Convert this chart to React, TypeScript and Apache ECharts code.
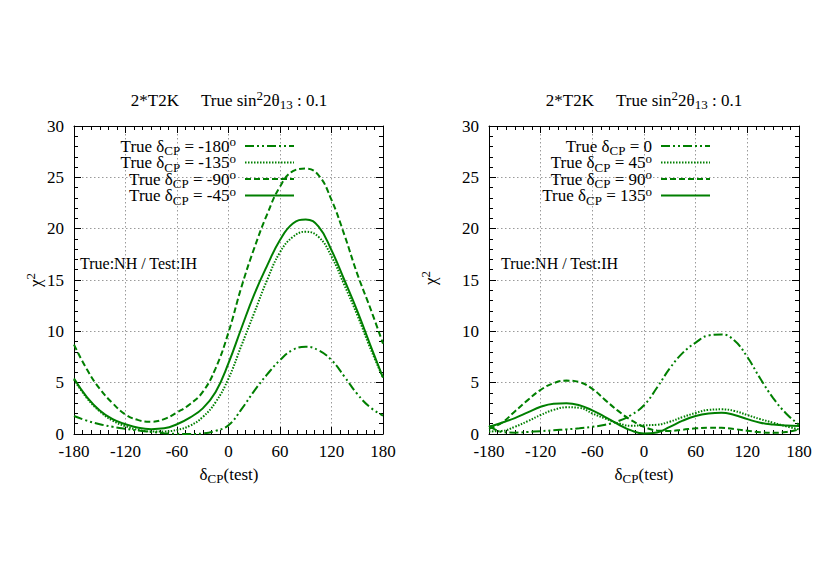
import React, { useEffect, useRef } from 'react';
import * as echarts from 'echarts';

// test delta_CP values (degrees)
const deltaTest = [-180, -165, -150, -135, -120, -105, -90, -75, -60, -45, -30, -15, 0, 15, 30, 45, 60, 75, 90, 105, 120, 135, 150, 165, 180];

// Left panel: true delta_CP = -180, -135, -90, -45
const leftM180 = [1.75, 1.3, 0.95, 0.7, 0.5, 0.33, 0.2, 0.08, 0.02, 0.0, 0.05, 0.3, 0.85, 2.4, 4.2, 5.8, 7.2, 8.2, 8.5, 8.15, 7.2, 5.6, 3.9, 2.6, 1.8];
const leftM135 = [5.3, 3.5, 2.2, 1.3, 0.75, 0.4, 0.25, 0.25, 0.4, 0.8, 1.65, 3.1, 5.4, 8.6, 11.8, 15.0, 17.7, 19.2, 19.7, 19.2, 17.3, 14.5, 11.6, 8.4, 5.5];
const leftM90 = [8.7, 6.3, 4.4, 3.0, 1.9, 1.35, 1.2, 1.45, 2.1, 2.9, 4.1, 6.4, 9.9, 14.3, 18.1, 21.4, 24.1, 25.6, 25.85, 25.2, 22.8, 19.4, 15.6, 12.3, 8.8];
const leftM45 = [5.4, 3.6, 2.3, 1.45, 0.95, 0.6, 0.47, 0.55, 0.95, 1.6, 2.5, 4.1, 6.9, 10.3, 13.6, 16.4, 18.9, 20.5, 20.9, 20.2, 17.9, 15.0, 12.0, 8.7, 5.5];

// Right panel: true delta_CP = 0, 45, 90, 135
const right0 = [0.8, 0.2, 0.13, 0.2, 0.28, 0.36, 0.45, 0.55, 0.7, 0.9, 1.25, 1.85, 2.8, 4.5, 6.4, 7.9, 8.9, 9.6, 9.7, 9.1, 7.5, 5.4, 3.5, 2.0, 0.9];
const right45 = [0.25, 0.3, 0.7, 1.25, 1.85, 2.35, 2.6, 2.55, 2.0, 1.5, 1.05, 0.8, 0.85, 0.9, 1.2, 1.65, 2.05, 2.35, 2.4, 2.25, 1.85, 1.45, 1.1, 0.75, 0.45];
const right90 = [0.5, 1.1, 2.2, 3.3, 4.3, 4.95, 5.2, 5.05, 4.4, 3.3, 2.25, 1.35, 0.7, 0.35, 0.3, 0.42, 0.55, 0.62, 0.6, 0.48, 0.32, 0.18, 0.12, 0.2, 0.45];
const right135 = [0.7, 1.1, 1.55, 2.1, 2.65, 2.95, 3.0, 2.8, 2.3, 1.65, 0.95, 0.35, 0.05, 0.15, 0.7, 1.3, 1.75, 2.0, 2.08, 1.85, 1.45, 1.1, 0.92, 0.82, 0.78];

const xTicks = { min: -180, max: 180, interval: 60 };
const yTicks = { min: 0, max: 30, interval: 5 };

const leftLegend = ['-180', '-135', '-90', '-45'];
const rightLegend = ['0', '45', '90', '135'];

const GREEN = '#007f00';
const FONT = 'Liberation Serif, Times New Roman, serif';

const rich = {
  a: { fontFamily: FONT, fontSize: 17, color: '#000', lineHeight: 16 },
  sub: { fontFamily: FONT, fontSize: 13, color: '#000', lineHeight: 6, padding: [9, 0, 0, 0] },
  sup: { fontFamily: FONT, fontSize: 13, color: '#000', lineHeight: 6, padding: [0, 0, 9, 0] },
  sp: { width: 22, lineHeight: 16 },
};

const styles = {
  dashdot: { type: [9, 3, 2, 3, 2, 3], width: 2 },
  dotted: { type: [1.5, 1.5], width: 2 },
  dashed: { type: [6, 3], width: 2 },
  solid: { type: 'solid', width: 2 },
};

function legendText(name: string) {
  const deg = name === '0' ? '' : '{sup|o}';
  return `{a|True δ}{sub|CP}{a| = ${name}}${deg}`;
}

export default function App() {
  const ref = useRef<HTMLDivElement>(null);
  useEffect(() => {
    document.body.style.margin = '0';
    const chart = echarts.init(ref.current!, null, { renderer: 'svg' });

    const grids = [
      { left: 74, top: 126, width: 309, height: 308 },
      { left: 489, top: 126, width: 310, height: 308 },
    ];

    const xAxes: any[] = [];
    const yAxes: any[] = [];
    grids.forEach((_, gi) => {
      const axisLine = { show: true, onZero: false, lineStyle: { color: '#000', width: 1 } };
      xAxes.push({
        type: 'value', gridIndex: gi, position: 'bottom', ...xTicks,
        axisLine,
        axisTick: { inside: true, length: 7, lineStyle: { color: '#000' } },
        minorTick: { show: true, splitNumber: 6, length: 4, lineStyle: { color: '#000' } },
        splitLine: { show: true, lineStyle: { color: '#9a9a9a', type: [1.5, 2.5], width: 1 } },
        axisLabel: { fontFamily: FONT, fontSize: 17, color: '#000', margin: 9 },
      });
      xAxes.push({
        type: 'value', gridIndex: gi, position: 'top', ...xTicks,
        axisLine,
        axisTick: { inside: true, length: 7, lineStyle: { color: '#000' } },
        minorTick: { show: true, splitNumber: 6, length: 4, lineStyle: { color: '#000' } },
        splitLine: { show: false },
        axisLabel: { show: false },
      });
      yAxes.push({
        type: 'value', gridIndex: gi, position: 'left', ...yTicks,
        axisLine,
        axisTick: { inside: true, length: 7, lineStyle: { color: '#000' } },
        minorTick: { show: true, splitNumber: 5, length: 4, lineStyle: { color: '#000' } },
        splitLine: { show: true, lineStyle: { color: '#9a9a9a', type: [1.5, 2.5], width: 1 } },
        axisLabel: { fontFamily: FONT, fontSize: 17, color: '#000', margin: 10 },
      });
      yAxes.push({
        type: 'value', gridIndex: gi, position: 'right', ...yTicks,
        axisLine,
        axisTick: { inside: true, length: 7, lineStyle: { color: '#000' } },
        minorTick: { show: true, splitNumber: 5, length: 4, lineStyle: { color: '#000' } },
        splitLine: { show: false },
        axisLabel: { show: false },
      });
    });

    const mk = (name: string, vals: number[], style: any, gi: number) => ({
      name, type: 'line', xAxisIndex: gi * 2, yAxisIndex: gi * 2,
      data: deltaTest.map((d, i) => [d, vals[i]]),
      smooth: 0.45, showSymbol: false, symbol: 'none',
      lineStyle: { color: GREEN, ...style }, itemStyle: { color: GREEN },
      z: 3,
    });

    const series = [
      mk('-180', leftM180, styles.dashdot, 0),
      mk('-135', leftM135, styles.dotted, 0),
      mk('-90', leftM90, styles.dashed, 0),
      mk('-45', leftM45, styles.solid, 0),
      mk('0', right0, styles.dashdot, 1),
      mk('45', right45, styles.dotted, 1),
      mk('90', right90, styles.dashed, 1),
      mk('135', right135, styles.solid, 1),
    ];

    const legendBase = {
      orient: 'vertical', align: 'right', top: 135, padding: 0,
      itemWidth: 49, itemHeight: 16, itemGap: -5.5, selectedMode: false,
      formatter: legendText,
      itemStyle: { opacity: 0 },
      textStyle: { fontFamily: FONT, fontSize: 17, color: '#000', rich, padding: [0, 4, 0, 0] },
    };

    const titleText = '{a|2*T2K}{sp|}{a|True sin}{sup|2}{a|2θ}{sub|13}{a| : 0.1}';
    const text = (x: number, y: number, t: string, extra: any = {}) => ({
      type: 'text', x, y, ...extra,
      style: { text: t, rich, align: 'center', verticalAlign: 'middle', font: `17px ${FONT}`, fill: '#000', ...(extra.style || {}) },
    });

    chart.setOption({
      animation: false,
      grid: grids,
      xAxis: xAxes,
      yAxis: yAxes,
      series,
      legend: [
        { ...legendBase, right: 830 - 295, data: leftLegend },
        { ...legendBase, right: 830 - 711, data: rightLegend },
      ],
      graphic: [
        text(229, 100, titleText),
        text(644, 100, titleText),
        text(229, 474, '{a|δ}{sub|CP}{a|(test)}'),
        text(644, 474, '{a|δ}{sub|CP}{a|(test)}'),
        { ...text(35, 280, '{a|χ}{sup|2}'), rotation: Math.PI / 2 },
        { ...text(430, 278, '{a|χ}{sup|2}'), rotation: Math.PI / 2 },
        { type: 'text', x: 80, y: 263, style: { text: 'True:NH / Test:IH', font: `16px ${FONT}`, fill: '#000', align: 'left', verticalAlign: 'middle' } },
        { type: 'text', x: 501, y: 263, style: { text: 'True:NH / Test:IH', font: `16px ${FONT}`, fill: '#000', align: 'left', verticalAlign: 'middle' } },
      ],
    });
    return () => chart.dispose();
  }, []);
  return <div ref={ref} style={{ position: 'absolute', left: 0, top: 0, width: 830, height: 581, background: '#fff' }} />;
}
